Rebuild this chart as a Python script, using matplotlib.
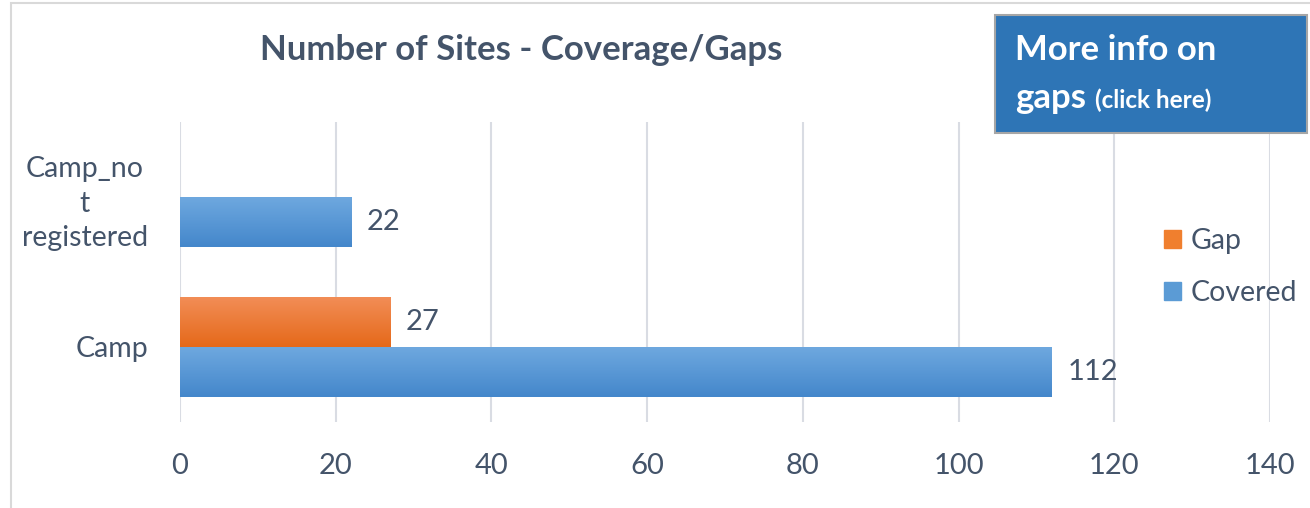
import numpy as np
import matplotlib.pyplot as plt
from matplotlib.patches import Rectangle

# data
categories = ['Camp', 'Camp_no\nt\nregistered']
covered = [112, 22]
gap = [27, 0]
x_ticks = [0, 20, 40, 60, 80, 100, 120, 140]

text_color = '#44546A'
grid_color = '#D9DCE3'
plt.rcParams['font.family'] = ['Lato', 'DejaVu Sans']

W, H = 1310, 508
fig = plt.figure(figsize=(W / 100, H / 100), dpi=100)

# chart border (left/top visible)
fig.patches.append(Rectangle((11 / W, -0.1), 1.2, 1 - 3 / H + 0.1, transform=fig.transFigure,
                             fill=False, edgecolor='#D9D9D9', lw=1.5))

ax = fig.add_axes([180 / W, 1 - 422 / H, 1090 / W, 300 / H])
y = np.arange(len(categories))
h = 1 / 3

def gradient_bars(bars, top, bottom):
    grad = np.linspace(0, 1, 64).reshape(-1, 1)
    c0 = np.array(plt.matplotlib.colors.to_rgb(top))
    c1 = np.array(plt.matplotlib.colors.to_rgb(bottom))
    img = c0 + (c1 - c0) * grad[:, :, None]
    for b in bars:
        if b.get_width() == 0:
            continue
        x0, y0 = b.get_x(), b.get_y()
        im = ax.imshow(img, extent=[x0, x0 + b.get_width(), y0, y0 + b.get_height()],
                       origin='upper', aspect='auto', zorder=3)
        im.set_clip_path(b)

cov_bars = ax.barh(y - h / 2, covered, height=h, color='#5B9BD5', zorder=2, label='Covered')
gap_bars = ax.barh(y + h / 2, gap, height=h, color='#ED7D31', zorder=2, label='Gap')
gradient_bars(cov_bars, '#6EA8DF', '#4487CB')
gradient_bars(gap_bars, '#F28D56', '#E5691A')

for b, v in zip(cov_bars, covered):
    ax.text(v + 2.0, b.get_y() + b.get_height() / 2, str(v), va='center', ha='left',
            fontsize=21, color=text_color)
for b, v in zip(gap_bars, gap):
    if v:
        ax.text(v + 2.0, b.get_y() + b.get_height() / 2, str(v), va='center', ha='left',
                fontsize=21, color=text_color)

ax.set_xlim(0, 140)
ax.set_ylim(-0.5, 1.5)
ax.set_xticks(x_ticks)
ax.set_xticklabels([str(t) for t in x_ticks], fontsize=21, color=text_color)
ax.set_yticks(y)
ax.set_yticklabels(categories, fontsize=20.5, color=text_color, multialignment='center',
                   linespacing=1.4)
ax.tick_params(length=0, pad=23, axis='y')
ax.tick_params(length=0, pad=22, axis='x')
ax.grid(axis='x', color=grid_color, lw=1.5, zorder=0)
ax.set_axisbelow(True)
for s in ax.spines.values():
    s.set_visible(False)

fig.text(521 / W, 1 - 50 / H, 'Number of Sites - Coverage/Gaps', ha='center', va='center',
         fontsize=25, fontweight='bold', color=text_color)

# legend
leg = fig.legend([Rectangle((0, 0), 1, 1, color='#F07F2E'), Rectangle((0, 0), 1, 1, color='#5B9BD5')],
                 ['Gap', 'Covered'], loc='center left', bbox_to_anchor=(1164 / W, 1 - 267 / H),
                 frameon=False, fontsize=20.5, labelcolor=text_color, handlelength=0.6,
                 handleheight=0.6, handletextpad=0.35, labelspacing=0.9, borderpad=0,
                 borderaxespad=0)

# info box
fig.patches.append(Rectangle((995 / W, 1 - 133 / H), 312 / W, 118 / H, transform=fig.transFigure,
                             facecolor='#2E75B6', edgecolor='#A6A6A6', lw=1.5, zorder=5))
fig.text(1015 / W, 1 - 50 / H, 'More info on', ha='left', va='center', fontsize=25,
         fontweight='bold', color='white', zorder=6)
fig.text(1015 / W, 1 - 98 / H, 'gaps', ha='left', va='center', fontsize=25,
         fontweight='bold', color='white', zorder=6)
fig.text(1095 / W, 1 - 100 / H, '(click here)', ha='left', va='center', fontsize=17.5,
         fontweight='bold', color='white', zorder=6)

fig.savefig('out.png', dpi=100)
